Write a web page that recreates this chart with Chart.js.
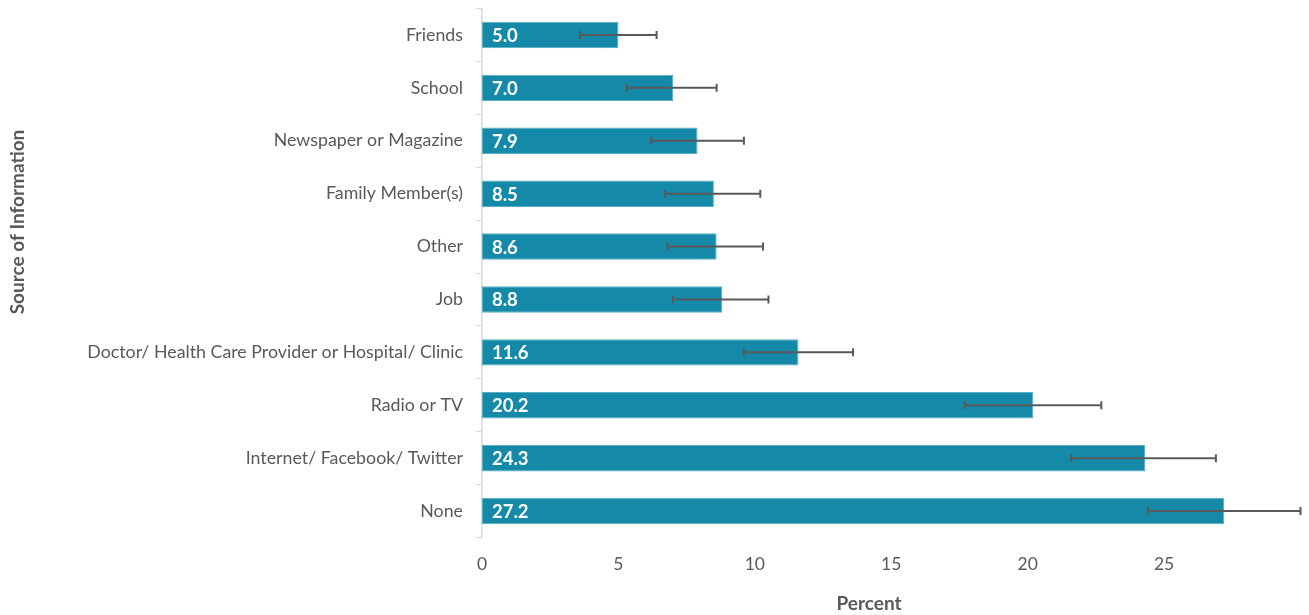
<!DOCTYPE html>
<html>
<head>
<meta charset="utf-8">
<script src="https://cdn.jsdelivr.net/npm/chart.js@4.4.1/dist/chart.umd.min.js"></script>
<style>
html,body{margin:0;padding:0;background:#fff;}
#wrap{width:1309px;height:615px;position:relative;}
</style>
</head>
<body>
<div id="wrap"><canvas id="c"></canvas></div>
<script>
const categories = ["Friends","School","Newspaper or Magazine","Family Member(s)","Other","Job","Doctor/ Health Care Provider or Hospital/ Clinic","Radio or TV","Internet/ Facebook/ Twitter","None"];
const percentValues = [5.0, 7.0, 7.9, 8.5, 8.6, 8.8, 11.6, 20.2, 24.3, 27.2];
const errorLower = [3.6, 5.3, 6.2, 6.7, 6.8, 7.0, 9.6, 17.7, 21.6, 24.4];
const errorUpper = [6.4, 8.6, 9.6, 10.2, 10.3, 10.5, 13.6, 22.7, 26.9, 30.0];
const xTicks = [0, 5, 10, 15, 20, 25];
const yTitle = "Source of Information";
const xTitle = "Percent";

const FONT = "Lato";
const GRAY = "#595959";

const errorBarPlugin = {
  id: 'errorBars',
  afterDatasetsDraw(chart) {
    const ctx = chart.ctx;
    const xs = chart.scales.x, ys = chart.scales.y;
    ctx.save();
    ctx.strokeStyle = GRAY;
    ctx.lineWidth = 2;
    categories.forEach((c, i) => {
      const y = ys.getPixelForValue(i);
      const x1 = xs.getPixelForValue(errorLower[i]);
      const x2 = xs.getPixelForValue(errorUpper[i]);
      ctx.beginPath();
      ctx.moveTo(x1, y); ctx.lineTo(x2, y);
      ctx.moveTo(x1, y - 4); ctx.lineTo(x1, y + 4);
      ctx.moveTo(x2, y - 4); ctx.lineTo(x2, y + 4);
      ctx.stroke();
    });
    ctx.restore();
  }
};

const dataLabelPlugin = {
  id: 'dataLabels',
  afterDatasetsDraw(chart) {
    const ctx = chart.ctx;
    const meta = chart.getDatasetMeta(0);
    ctx.save();
    ctx.fillStyle = '#ffffff';
    ctx.font = 'bold 18.5px ' + FONT;
    ctx.textAlign = 'left';
    ctx.textBaseline = 'middle';
    meta.data.forEach((bar, i) => {
      ctx.fillText(percentValues[i].toFixed(1), chart.chartArea.left + 10, bar.y + 1);
    });
    ctx.restore();
  }
};

const axisTitlePlugin = {
  id: 'axisTitles',
  afterDraw(chart) {
    const ctx = chart.ctx;
    ctx.save();
    ctx.fillStyle = GRAY;
    ctx.font = 'bold 19px ' + FONT;
    ctx.textAlign = 'center';
    ctx.textBaseline = 'middle';
    ctx.fillText(xTitle, 869, 604);
    ctx.translate(18, 222);
    ctx.rotate(-Math.PI / 2);
    ctx.fillText(yTitle, 0, 0);
    ctx.restore();
  }
};

new Chart(document.getElementById('c'), {
  type: 'bar',
  data: {
    labels: categories,
    datasets: [{
      data: percentValues,
      backgroundColor: '#1589A8',
      borderColor: '#5AAFC6',
      borderWidth: 1,
      borderSkipped: false,
      barPercentage: 0.5,
      categoryPercentage: 1.0
    }]
  },
  options: {
    indexAxis: 'y',
    responsive: true,
    maintainAspectRatio: false,
    animation: false,
    layout: { padding: { top: 8.5, right: 8.5, bottom: 0, left: 0 } },
    plugins: { legend: { display: false }, tooltip: { enabled: false } },
    scales: {
      x: {
        min: 0, max: 30,
        afterBuildTicks(scale) { scale.ticks = xTicks.map(v => ({ value: v })); },
        afterFit(scale) { scale.height = 77.5; scale.paddingLeft = 0; scale.paddingRight = 0; },
        grid: { display: false, drawTicks: false },
        border: { display: false },
        ticks: { color: GRAY, font: { family: FONT, size: 17.5 }, padding: 16 },
        title: { display: false }
      },
      y: {
        afterFit(scale) { scale.width = 482; scale.paddingTop = 0; scale.paddingBottom = 0; },
        grid: { drawOnChartArea: false, drawTicks: true, tickLength: 6, color: '#D9D9D9', offset: true },
        border: { display: true, color: '#D9D9D9', width: 1.5 },
        ticks: { color: GRAY, font: { family: FONT, size: 17.8 }, padding: 13 },
        title: { display: false }
      }
    }
  },
  plugins: [errorBarPlugin, dataLabelPlugin, axisTitlePlugin]
});
</script>
</body>
</html>
